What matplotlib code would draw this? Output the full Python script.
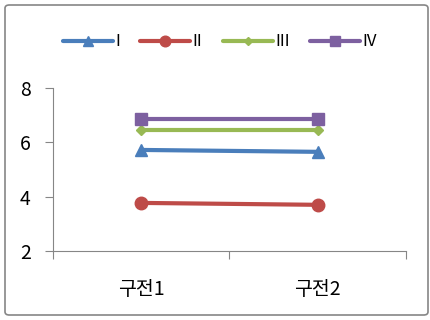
import matplotlib.pyplot as plt
from matplotlib.patches import FancyBboxPatch

plt.rcParams['font.family'] = ['Noto Sans CJK KR', 'DejaVu Sans']

# chart data
categories = ['구전1', '구전2']
series_names = ['I', 'II', 'III', 'IV']
series_values = [
    [5.72, 5.65],
    [3.77, 3.70],
    [6.45, 6.45],
    [6.86, 6.86],
]
colors = ['#4A7EBB', '#BE4B48', '#98B954', '#7D60A0']
markers = ['^', 'o', 'D', 's']
marker_sizes = [9, 9, 5, 8]

fig = plt.figure(figsize=(4.31, 3.2), dpi=100)
ax = fig.add_axes([53 / 431, 1 - 251 / 320, 353 / 431, 163 / 320])

# rounded frame around the whole chart
fig.patches.append(FancyBboxPatch((5 / 431, 5 / 320), 423 / 431, 310 / 320,
                                  boxstyle='round,pad=0,rounding_size=0.01',
                                  transform=fig.transFigure, fill=False,
                                  edgecolor='#868686', linewidth=1.2))

xs = [i + 0.5 for i in range(len(categories))]
for name, vals, c, mk, ms in zip(series_names, series_values, colors, markers, marker_sizes):
    ax.plot(xs, vals, color=c, lw=3, marker=mk, markersize=ms, label=name,
            solid_capstyle='round')

ax.set_xlim(0, len(categories))
ax.set_ylim(2, 8)
ax.set_yticks([2, 4, 6, 8])
ax.set_xticks(range(len(categories) + 1))
ax.set_xticklabels([])
ax.set_xticks(xs, minor=True)
ax.set_xticklabels(categories, minor=True, fontsize=14)
ax.tick_params(axis='x', which='minor', length=0, pad=20)
ax.tick_params(axis='x', which='major', direction='out', length=6, color='#868686')
ax.tick_params(axis='y', direction='out', length=6, color='#868686', labelsize=14, pad=10)

for side in ['top', 'right']:
    ax.spines[side].set_visible(False)
for side in ['left', 'bottom']:
    ax.spines[side].set_color('#868686')

leg = fig.legend(loc='center', bbox_to_anchor=(0.51, 1 - 42 / 320), ncol=4,
                 frameon=False, fontsize=12, handlelength=3.0, columnspacing=1.2,
                 handletextpad=0.15, markerscale=0.85)

fig.savefig('out.png', dpi=100)
